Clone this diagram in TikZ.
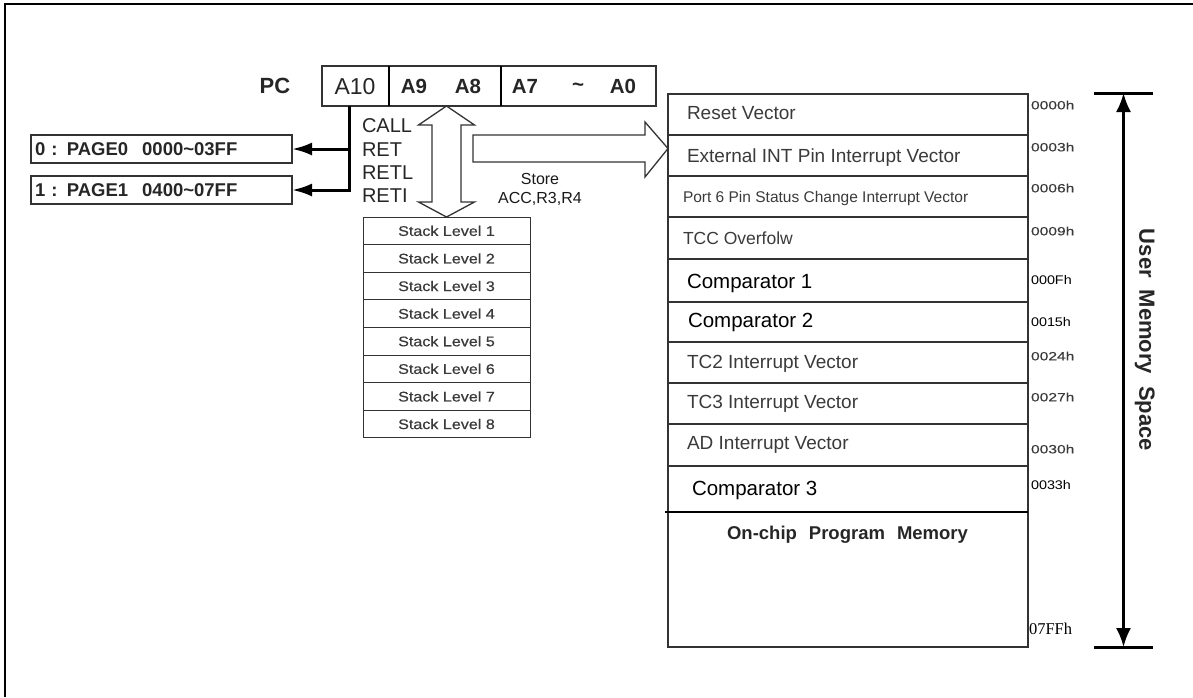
\documentclass[tikz,border=0pt]{standalone}
\usepackage{fontspec}
\setmainfont{Liberation Sans}
\newfontfamily\widefont[FakeStretch=1.15,FakeBold=0.6]{Liberation Sans}
\newfontfamily\addrfont[FakeStretch=1.3,FakeBold=0.4]{Liberation Sans}
\newfontfamily\addrbfont[FakeStretch=1.15]{Liberation Sans}
\newfontfamily\seriffont{Liberation Serif}
\usetikzlibrary{arrows.meta,calc}
\newcommand\fsz[2]{\fontsize{#1}{#2}\selectfont}
\definecolor{linec}{HTML}{333333}
\definecolor{txtg}{HTML}{3A3A3A}
\begin{document}
\begin{tikzpicture}[x=1pt,y=-1pt,
  every node/.style={inner sep=0pt, outer sep=0pt, text depth=0pt},
  cell/.style={draw=linec, line width=1.2pt, minimum height=40pt, anchor=north west},
  pctxt/.style={font=\bfseries\fsz{20.5}{22}, text=black!85},
  pagebox/.style={draw=linec, line width=1.3pt, minimum height=28pt, text width=253pt, inner xsep=4pt, align=left, anchor=north west, font=\bfseries\fsz{18.5}{22}, text=black!85},
  optxt/.style={font=\fsz{20}{23}, text=black!85, anchor=west},
  stk/.style={draw=linec, line width=1pt, minimum width=167pt, minimum height=27.6pt, anchor=north, font=\widefont\fsz{14}{16}, text=txtg},
  memrow/.style={draw=linec, line width=1.3pt, minimum width=360pt, anchor=north west},
  memtxt/.style={anchor=west, text=txtg, font=\fsz{19}{22}},
  cmptxt/.style={anchor=west, text=black, font=\fsz{20.5}{24}},
  addr/.style={anchor=west, text=txtg, font=\addrfont\fsz{12}{14}},
  addrb/.style={anchor=west, text=black, font=\addrbfont\fsz{12.5}{14}},
  thickarrow/.style={line width=3pt, draw=black, -{Latex[length=20pt,width=13pt]}},
  hollow/.style={draw=linec, line width=1.3pt, fill=white, line join=miter}
]
\useasboundingbox (0,0) rectangle (1193,697);
% frame
\draw[line width=1.3pt, black] (5,697) -- (5,4) -- (1193,4);

% PC register
\node[font=\bfseries\fsz{22}{24}, text=black!85] (pc) at (275,86) {PC};
\node[cell, minimum width=67pt] (c10) at (322,66) {};
\node[cell, minimum width=112pt] (c98) at (389,66) {};
\node[cell, minimum width=155pt] (c70) at (501,66) {};
\draw[line width=2.2pt, black] (c98.north west) -- (c98.south west);
\draw[line width=2.2pt, black] (c70.north west) -- (c70.south west);
\node[font=\fsz{23}{24}, text=black!85] (t10) at (355,86) {A10};
\node[pctxt] (t9) at (414,86) {A9};
\node[pctxt] (t8) at (468,86) {A8};
\node[pctxt] (t7) at (525,86) {A7};
\node[pctxt] (tt) at (578,87) {\textasciitilde};
\node[pctxt] (t0) at (623,86) {A0};

% page boxes
\node[pagebox] (p0) at (31,135) {0 : PAGE0\hspace{14pt}0000\textasciitilde 03FF};
\node[pagebox] (p1) at (31,176) {1 : PAGE1\hspace{14pt}0400\textasciitilde 07FF};
\coordinate (vtop) at (349,106);
\draw[thickarrow] (vtop) |- (p1.east);
\draw[thickarrow] (vtop |- p0.east) -- (p0.east);

% call/ret labels
\node[optxt] (o1) at (362,126) {CALL};
\node[optxt] (o2) at (362,150) {RET};
\node[optxt] (o3) at (362,173) {RETL};
\node[optxt] (o4) at (362,196) {RETI};

% stack
\node[stk, anchor=north west] (s1) at (363,217) {Stack Level 1};
\node[stk] (s2) at (s1.south) {Stack Level 2};
\node[stk] (s3) at (s2.south) {Stack Level 3};
\node[stk] (s4) at (s3.south) {Stack Level 4};
\node[stk] (s5) at (s4.south) {Stack Level 5};
\node[stk] (s6) at (s5.south) {Stack Level 6};
\node[stk] (s7) at (s6.south) {Stack Level 7};
\node[stk] (s8) at (s7.south) {Stack Level 8};

% double hollow arrow PC <-> stack
\coordinate (T) at (s1.north |- c98.south);
\coordinate (B) at (s1.north);
\draw[hollow] (T) -- ($(T)+(28,19)$) -- ($(T)+(14.5,19)$) -- ($(B)+(14.5,-15)$) -- ($(B)+(28,-15)$)
  -- (B) -- ($(B)+(-28,-15)$) -- ($(B)+(-14.5,-15)$) -- ($(T)+(-14.5,19)$) -- ($(T)+(-28,19)$) -- cycle;

% memory map
\node[memrow, minimum height=41pt] (r1) at (668,94) {};
\node[memrow, minimum height=41pt] (r2) at (r1.south west) {};
\node[memrow, minimum height=41pt] (r3) at (r2.south west) {};
\node[memrow, minimum height=42pt] (r4) at (r3.south west) {};
\node[memrow, minimum height=43pt] (r5) at (r4.south west) {};
\node[memrow, minimum height=40pt] (r6) at (r5.south west) {};
\node[memrow, minimum height=41pt] (r7) at (r6.south west) {};
\node[memrow, minimum height=41pt] (r8) at (r7.south west) {};
\node[memrow, minimum height=42pt] (r9) at (r8.south west) {};
\node[memrow, minimum height=46pt] (r10) at (r9.south west) {};
\node[memrow, minimum height=135pt] (r11) at (r10.south west) {};
\draw[line width=1.3pt, black] ($(r11.north west)+(-3,0)$) -- (r11.north east);

\node[memtxt] (m1) at (687,113) {Reset Vector};
\node[memtxt] (m2) at (687,156) {External INT Pin Interrupt Vector};
\node[memtxt, font=\fsz{15.5}{18}] (m3) at (683,197) {Port 6 Pin Status Change Interrupt Vector};
\node[memtxt, font=\fsz{17.5}{20}] (m4) at (683,238) {TCC Overfolw};
\node[cmptxt] (m5) at (687,281) {Comparator 1};
\node[cmptxt] (m6) at (688,320) {Comparator 2};
\node[memtxt] (m7) at (687,362) {TC2 Interrupt Vector};
\node[memtxt] (m8) at (687,402) {TC3 Interrupt Vector};
\node[memtxt] (m9) at (687,443) {AD Interrupt Vector};
\node[cmptxt] (m10) at (692,488) {Comparator 3};
\node[font=\bfseries\fsz{18.5}{22}, text=black!85] (m11) at (847.5,533) {On-chip\hspace{12pt}Program\hspace{12pt}Memory};

% horizontal hollow arrow
\coordinate (tip) at ($(r2.north west)+(0,13.5)$);
\coordinate (tail) at (473,148.5);
\draw[hollow] ($(tail)+(0,-13.5)$) -- ($(tip)+(-23,-13.5)$) -- ($(tip)+(-23,-26.5)$) -- (tip)
  -- ($(tip)+(-23,28.5)$) -- ($(tip)+(-23,13.5)$) -- ($(tail)+(0,13.5)$) -- cycle;
\node[font=\fsz{16}{19}, align=center, text=black!90] (store) at (540,188) {Store\\ACC,R3,R4};

% addresses
\node[addr] (a1) at (1031,105) {0000h};
\node[addr] (a2) at (1031,147) {0003h};
\node[addr] (a3) at (1031,188) {0006h};
\node[addr] (a4) at (1031,231) {0009h};
\node[addrb] (a5) at (1031,280) {000Fh};
\node[addrb] (a6) at (1031,322) {0015h};
\node[addr] (a7) at (1031,356) {0024h};
\node[addr] (a8) at (1031,397) {0027h};
\node[addr] (a9) at (1031,449) {0030h};
\node[addrb] (a10) at (1031,485) {0033h};
\node[anchor=west, font=\seriffont\fsz{16.5}{18}, text=black] (a11) at (1029,629) {07FFh};

% user memory space
\coordinate (ut) at (1123.5,93);
\coordinate (ub) at (1123.5,647);
\draw[line width=3pt, black] ($(ut)+(-29.5,0)$) -- ($(ut)+(29.5,0)$);
\draw[line width=3pt, black] ($(ub)+(-29.5,0)$) -- ($(ub)+(29.5,0)$);
\draw[line width=2.5pt, black, {Latex[length=19pt,width=15pt]}-{Latex[length=19pt,width=15pt]}] (ut) -- (ub);
\node[rotate=-90, font=\bfseries\fsz{22}{24}, text=black!85] (ums) at (1147,340) {User\hspace{12pt}Memory\hspace{12pt}Space};
\end{tikzpicture}
\end{document}
